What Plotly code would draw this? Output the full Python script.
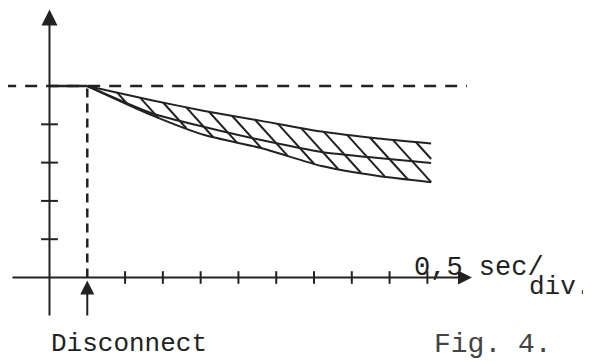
import numpy as np
import plotly.graph_objects as go

# ---- data (time in divisions of 0.5 s, level in arbitrary units) ----
t_band = [1.0, 2.7, 4.1, 5.6, 7.2, 8.7, 10.1]
upper = [5.0, 4.63, 4.35, 4.09, 3.81, 3.63, 3.50]
middle = [5.0, 4.29, 3.93, 3.59, 3.28, 3.12, 2.99]
lower = [5.0, 4.24, 3.72, 3.38, 2.91, 2.65, 2.49]
level = 5.0
t_disconnect = 1.0
x_ticks = [2, 3, 4, 5, 6, 7, 8, 9, 10]
y_ticks = [1, 2, 3, 4]
x_label = "0,5 sec/"
x_label_sub = "div."
event_label = "Disconnect"
fig_label = "Fig. 4."

INK = "#222222"
FONT = "Liberation Mono"

# hatch geometry (style)
hatch_start = 1.79
hatch_step = 0.608
hatch_slope = 1.09

fig = go.Figure()

# level line: dashed reference across the chart
fig.add_trace(go.Scatter(x=[-1.2, 11.05], y=[level, level], mode="lines",
                         line=dict(color=INK, width=2.5, dash="12px,9px"),
                         hoverinfo="skip"))
# solid level before disconnect
fig.add_trace(go.Scatter(x=[0, t_disconnect], y=[level, level], mode="lines",
                         line=dict(color=INK, width=2.5), hoverinfo="skip"))
# vertical dashed disconnect marker
fig.add_trace(go.Scatter(x=[t_disconnect, t_disconnect], y=[0, level], mode="lines",
                         line=dict(color=INK, width=2.5, dash="9px,6px"),
                         hoverinfo="skip"))

# hatching between upper and lower curves
bx = np.array(t_band)
bu = np.array(upper)
bl = np.array(lower)
hx, hy = [], []
xs = hatch_start
while xs < bx[-1]:
    ys = np.interp(xs, bx, bu)
    xx = np.linspace(xs, bx[-1], 600)
    line_y = ys - hatch_slope * (xx - xs)
    below = np.where(line_y <= np.interp(xx, bx, bl))[0]
    xe = xx[below[0]] if len(below) else bx[-1]
    ye = ys - hatch_slope * (xe - xs)
    hx += [xs, xe, None]
    hy += [ys, ye, None]
    xs += hatch_step
fig.add_trace(go.Scatter(x=hx, y=hy, mode="lines",
                         line=dict(color=INK, width=2), hoverinfo="skip"))

for series in (upper, middle, lower):
    fig.add_trace(go.Scatter(x=t_band, y=series, mode="lines",
                             line=dict(color=INK, width=2, shape="spline", smoothing=0.6),
                             hoverinfo="skip"))

# axis tick marks
fig.add_trace(go.Scatter(x=x_ticks, y=[0] * len(x_ticks), mode="markers",
                         marker=dict(symbol="line-ns", size=9,
                                     line=dict(color=INK, width=2)),
                         hoverinfo="skip"))
fig.add_trace(go.Scatter(x=[0] * len(y_ticks), y=y_ticks, mode="markers",
                         marker=dict(symbol="line-ew", size=12,
                                     line=dict(color=INK, width=2)),
                         hoverinfo="skip"))

annotations = [
    # y axis arrow
    dict(x=0, y=7.0, ax=0, ay=-1.03, xref="x", yref="y", axref="x", ayref="y",
         text="", showarrow=True, arrowhead=2, arrowsize=1.6, arrowwidth=2,
         arrowcolor=INK),
    # x axis arrow
    dict(x=11.18, y=0, ax=-1.02, ay=0, xref="x", yref="y", axref="x", ayref="y",
         text="", showarrow=True, arrowhead=2, arrowsize=1.4, arrowwidth=2,
         arrowcolor=INK),
    # disconnect arrow
    dict(x=t_disconnect, y=-0.08, ax=t_disconnect, ay=-1.03, xref="x", yref="y",
         axref="x", ayref="y", text="", showarrow=True, arrowhead=2,
         arrowsize=1.4, arrowwidth=2, arrowcolor=INK),
    dict(x=9.6, y=0.25, xref="x", yref="y", text=x_label, showarrow=False,
         xanchor="left", yanchor="middle", font=dict(family=FONT, size=27, color=INK)),
    dict(x=12.64, y=-0.24, xref="x", yref="y", text=x_label_sub, showarrow=False,
         xanchor="left", yanchor="middle", font=dict(family=FONT, size=26, color=INK)),
    dict(x=0.0, y=-1.73, xref="x", yref="y", text=event_label, showarrow=False,
         xanchor="left", yanchor="middle", font=dict(family=FONT, size=26, color=INK)),
    dict(x=10.12, y=-1.74, xref="x", yref="y", text=fig_label, showarrow=False,
         xanchor="left", yanchor="middle", font=dict(family=FONT, size=28, color="#444444")),
]

# the page places the plot 8 px in from the top-left corner, so the figure is
# 8 px smaller and its ranges start at the page's 8th pixel
fig.update_layout(
    width=583, height=353,
    margin=dict(l=0, r=0, t=0, b=0),
    paper_bgcolor="white", plot_bgcolor="white",
    showlegend=False,
    xaxis=dict(range=[-1.098, 14.33], visible=False, fixedrange=True),
    yaxis=dict(range=[-2.18, 7.037], visible=False, fixedrange=True),
    annotations=annotations,
)

fig.write_html("out.html")
